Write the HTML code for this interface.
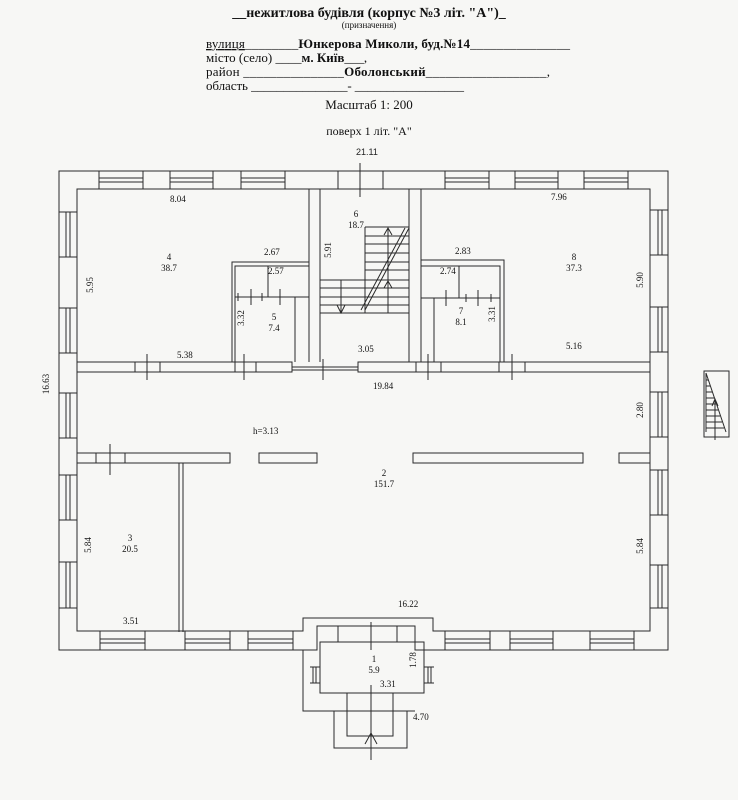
<!DOCTYPE html>
<html><head><meta charset="utf-8"><style>
html,body{margin:0;padding:0;background:#f7f7f5;}
svg{display:block;}
text{font-family:"Liberation Serif","DejaVu Serif",serif;fill:#111;}
.s{font-family:"Liberation Sans","DejaVu Sans",sans-serif;font-size:9px;fill:#222;}
</style></head><body>
<svg width="738" height="800" viewBox="0 0 738 800" xmlns="http://www.w3.org/2000/svg">
<rect width="738" height="800" fill="#f7f7f5"/>
<text x="369" y="17" text-anchor="middle" font-size="14" font-weight="bold">__нежитлова будівля (корпус №3 літ. "А")_</text>
<text x="369" y="28" text-anchor="middle" font-size="9">(призначення)</text>
<text x="206" y="48" font-size="13" textLength="364"><tspan text-decoration="underline">вулиця</tspan>________<tspan font-weight="bold">Юнкерова Миколи, буд.№14</tspan>_______________</text>
<text x="206" y="62" font-size="13">місто (село) ____<tspan font-weight="bold">м. Київ</tspan>___,</text>
<text x="206" y="76" font-size="13" textLength="344">район _______________<tspan font-weight="bold">Оболонський</tspan>__________________,</text>
<text x="206" y="90" font-size="13" textLength="258">область _______________- _________________</text>
<text x="369" y="109" text-anchor="middle" font-size="13">Масштаб 1: 200</text>
<text x="369" y="135" text-anchor="middle" font-size="12">поверх 1 літ. "А"</text>
<text x="356" y="155" class="s" font-size="8">21.11</text>

<g fill="none" stroke="#2a2a2a" stroke-width="1">
<path d="M59 171 H668 V650 H415 V626 H317 V650 H59 Z"/>
<path d="M77 189 H650 V631 H433 V618 H303 V631 H77 Z"/>
<g>
<rect x="99" y="171" width="44" height="18"/><line x1="99" y1="178" x2="143" y2="178"/><line x1="99" y1="182" x2="143" y2="182"/>
<rect x="170" y="171" width="43" height="18"/><line x1="170" y1="178" x2="213" y2="178"/><line x1="170" y1="182" x2="213" y2="182"/>
<rect x="241" y="171" width="44" height="18"/><line x1="241" y1="178" x2="285" y2="178"/><line x1="241" y1="182" x2="285" y2="182"/>
<rect x="338" y="171" width="45" height="18"/>
<rect x="445" y="171" width="44" height="18"/><line x1="445" y1="178" x2="489" y2="178"/><line x1="445" y1="182" x2="489" y2="182"/>
<rect x="515" y="171" width="43" height="18"/><line x1="515" y1="178" x2="558" y2="178"/><line x1="515" y1="182" x2="558" y2="182"/>
<rect x="584" y="171" width="44" height="18"/><line x1="584" y1="178" x2="628" y2="178"/><line x1="584" y1="182" x2="628" y2="182"/>
</g>
<g>
<rect x="59" y="212" width="18" height="45"/><line x1="66" y1="212" x2="66" y2="257"/><line x1="70" y1="212" x2="70" y2="257"/>
<rect x="59" y="308" width="18" height="45"/><line x1="66" y1="308" x2="66" y2="353"/><line x1="70" y1="308" x2="70" y2="353"/>
<rect x="59" y="393" width="18" height="45"/><line x1="66" y1="393" x2="66" y2="438"/><line x1="70" y1="393" x2="70" y2="438"/>
<rect x="59" y="475" width="18" height="45"/><line x1="66" y1="475" x2="66" y2="520"/><line x1="70" y1="475" x2="70" y2="520"/>
<rect x="59" y="562" width="18" height="46"/><line x1="66" y1="562" x2="66" y2="608"/><line x1="70" y1="562" x2="70" y2="608"/>
</g>
<g>
<rect x="650" y="210" width="18" height="45"/><line x1="658" y1="210" x2="658" y2="255"/><line x1="662" y1="210" x2="662" y2="255"/>
<rect x="650" y="307" width="18" height="45"/><line x1="658" y1="307" x2="658" y2="352"/><line x1="662" y1="307" x2="662" y2="352"/>
<rect x="650" y="392" width="18" height="45"/><line x1="658" y1="392" x2="658" y2="437"/><line x1="662" y1="392" x2="662" y2="437"/>
<rect x="650" y="470" width="18" height="45"/><line x1="658" y1="470" x2="658" y2="515"/><line x1="662" y1="470" x2="662" y2="515"/>
<rect x="650" y="565" width="18" height="43"/><line x1="658" y1="565" x2="658" y2="608"/><line x1="662" y1="565" x2="662" y2="608"/>
</g>
<g>
<rect x="100" y="631" width="45" height="19"/><line x1="100" y1="639" x2="145" y2="639"/><line x1="100" y1="643" x2="145" y2="643"/>
<rect x="185" y="631" width="45" height="19"/><line x1="185" y1="639" x2="230" y2="639"/><line x1="185" y1="643" x2="230" y2="643"/>
<rect x="248" y="631" width="45" height="19"/><line x1="248" y1="639" x2="293" y2="639"/><line x1="248" y1="643" x2="293" y2="643"/>
<rect x="445" y="631" width="45" height="19"/><line x1="445" y1="639" x2="490" y2="639"/><line x1="445" y1="643" x2="490" y2="643"/>
<rect x="510" y="631" width="43" height="19"/><line x1="510" y1="639" x2="553" y2="639"/><line x1="510" y1="643" x2="553" y2="643"/>
<rect x="590" y="631" width="44" height="19"/><line x1="590" y1="639" x2="634" y2="639"/><line x1="590" y1="643" x2="634" y2="643"/>
</g>
<rect x="77" y="362" width="215" height="10"/>
<rect x="358" y="362" width="292" height="10"/>
<line x1="292" y1="367" x2="358" y2="367"/><line x1="292" y1="370" x2="358" y2="370"/>
<line x1="135" y1="362" x2="135" y2="372"/><line x1="160" y1="362" x2="160" y2="372"/><line x1="147" y1="354" x2="147" y2="380"/>
<line x1="235" y1="362" x2="235" y2="372"/><line x1="256" y1="362" x2="256" y2="372"/><line x1="244" y1="354" x2="244" y2="380"/>
<line x1="323" y1="359" x2="323" y2="380"/>
<line x1="416" y1="362" x2="416" y2="372"/><line x1="441" y1="362" x2="441" y2="372"/><line x1="428" y1="354" x2="428" y2="380"/>
<line x1="499" y1="362" x2="499" y2="372"/><line x1="525" y1="362" x2="525" y2="372"/><line x1="512" y1="354" x2="512" y2="380"/>
<rect x="77" y="453" width="153" height="10"/>
<line x1="96" y1="453" x2="96" y2="463"/><line x1="125" y1="453" x2="125" y2="463"/><line x1="110" y1="444" x2="110" y2="475"/>
<rect x="259" y="453" width="58" height="10"/>
<rect x="413" y="453" width="170" height="10"/>
<rect x="619" y="453" width="31" height="10"/>
<line x1="179" y1="463" x2="179" y2="632"/><line x1="183" y1="463" x2="183" y2="632"/>
<line x1="309" y1="189" x2="309" y2="362"/><line x1="320" y1="189" x2="320" y2="362"/>
<line x1="409" y1="189" x2="409" y2="362"/><line x1="421" y1="189" x2="421" y2="362"/>
<line x1="360" y1="163" x2="360" y2="197"/>
<g>
<path d="M365 227 H409 M365 236 H409 M365 244 H409 M365 253 H409 M365 262 H409 M365 270 H409 M320 280 H409 M320 288 H409 M320 297 H409 M320 305 H409 M320 313 H409 M365 227 V313"/>
<path d="M409 228 L365 310 M405 228 L361 310"/>
<path d="M388 313 V229 M384 235 L388 228 L392 235 M388 313 V282 M384 288 L388 281 L392 288"/>
<path d="M341 280 V313 M337 305 L341 313 L345 305"/>
</g>
<path d="M232 362 V262 H309 M235 362 V266 H309"/>
<line x1="235" y1="297" x2="309" y2="297"/>
<line x1="268" y1="266" x2="268" y2="297"/>
<line x1="295" y1="297" x2="295" y2="362"/>
<line x1="251" y1="289" x2="251" y2="305"/><line x1="280" y1="289" x2="280" y2="305"/><line x1="238" y1="293" x2="238" y2="301"/><line x1="262" y1="293" x2="262" y2="301"/>
<path d="M421 260 H504 V362 M421 266 H500 V362"/>
<line x1="421" y1="298" x2="500" y2="298"/>
<line x1="459" y1="266" x2="459" y2="298"/>
<line x1="434" y1="298" x2="434" y2="362"/>
<line x1="446" y1="290" x2="446" y2="306"/><line x1="478" y1="290" x2="478" y2="306"/><line x1="466" y1="294" x2="466" y2="302"/><line x1="491" y1="294" x2="491" y2="302"/>
<path d="M317 626 H413"/>
<line x1="338" y1="626" x2="338" y2="642"/><line x1="397" y1="626" x2="397" y2="642"/>
<rect x="320" y="642" width="104" height="51"/>
<path d="M303 650 V711 H415"/>
<path d="M310 667 H320 M310 683 H320 M313 667 V683 M316 667 V683"/>
<path d="M424 667 H434 M424 683 H434 M428 667 V683 M431 667 V683"/>
<path d="M347 693 V736 H393 V693 M334 711 V748 H407 V711"/>
<path d="M371 622 V650 M371 685 V760 M365 744 L371 733 L377 744"/>
<rect x="704" y="371" width="25" height="66"/>
<path d="M706 373 L726 432 M706 373 V432 M706 380 H708 M706 386 H710 M706 392 H712 M706 398 H714 M706 404 H716 M706 410 H718 M706 416 H720 M706 422 H722 M706 428 H724 M715 399 V440 M712 406 L715 399 L718 406"/>
</g>

<g class="s">
<text x="170" y="202">8.04</text>
<text x="551" y="200">7.96</text>
<text x="264" y="255">2.67</text>
<text x="268" y="274">2.57</text>
<text x="455" y="254">2.83</text>
<text x="440" y="274">2.74</text>
<text x="169" y="260" text-anchor="middle">4</text>
<text x="169" y="271" text-anchor="middle">38.7</text>
<text x="574" y="260" text-anchor="middle">8</text>
<text x="574" y="271" text-anchor="middle">37.3</text>
<text x="356" y="217" text-anchor="middle">6</text>
<text x="356" y="228" text-anchor="middle">18.7</text>
<text x="274" y="320" text-anchor="middle">5</text>
<text x="274" y="331" text-anchor="middle">7.4</text>
<text x="461" y="314" text-anchor="middle">7</text>
<text x="461" y="325" text-anchor="middle">8.1</text>
<text x="177" y="358">5.38</text>
<text x="566" y="349">5.16</text>
<text x="358" y="352">3.05</text>
<text x="373" y="389">19.84</text>
<text x="253" y="434">h=3.13</text>
<text x="384" y="476" text-anchor="middle">2</text>
<text x="384" y="487" text-anchor="middle">151.7</text>
<text x="130" y="541" text-anchor="middle">3</text>
<text x="130" y="552" text-anchor="middle">20.5</text>
<text x="123" y="624">3.51</text>
<text x="398" y="607">16.22</text>
<text x="374" y="662" text-anchor="middle">1</text>
<text x="374" y="673" text-anchor="middle">5.9</text>
<text x="380" y="687">3.31</text>
<text x="413" y="720">4.70</text>
<text transform="translate(93,285) rotate(-90)" text-anchor="middle">5.95</text>
<text transform="translate(331,250) rotate(-90)" text-anchor="middle">5.91</text>
<text transform="translate(244,318) rotate(-90)" text-anchor="middle">3.32</text>
<text transform="translate(495,314) rotate(-90)" text-anchor="middle">3.31</text>
<text transform="translate(643,280) rotate(-90)" text-anchor="middle">5.90</text>
<text transform="translate(643,410) rotate(-90)" text-anchor="middle">2.80</text>
<text transform="translate(643,546) rotate(-90)" text-anchor="middle">5.84</text>
<text transform="translate(91,545) rotate(-90)" text-anchor="middle">5.84</text>
<text transform="translate(49,384) rotate(-90)" text-anchor="middle">16.63</text>
<text transform="translate(416,660) rotate(-90)" text-anchor="middle">1.78</text>
</g>
</svg>
</body></html>
